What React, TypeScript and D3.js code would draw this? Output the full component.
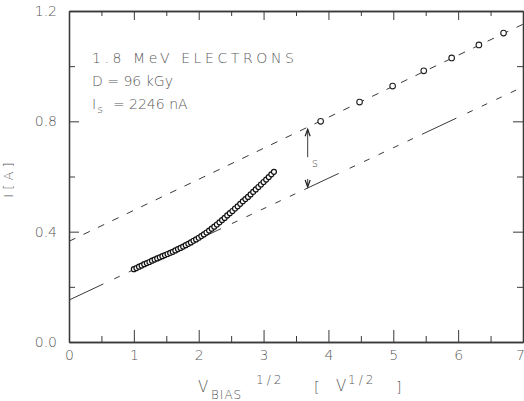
import React, { useEffect, useRef } from "react";
import * as d3 from "d3";

// axis ticks
const xMajor = [0, 1, 2, 3, 4, 5, 6, 7];
const xMinor = [0.5, 1.5, 2.5, 3.5, 4.5, 5.5, 6.5];
const yMajor = [0.0, 0.4, 0.8, 1.2];
const yMinor = [0.2, 0.6, 1.0];

// measured current vs sqrt(V bias), low-voltage range
const measX = [
  1.0, 1.04, 1.08, 1.12, 1.16, 1.2, 1.24, 1.28, 1.32, 1.36, 1.4, 1.44, 1.48,
  1.52, 1.56, 1.6, 1.64, 1.68, 1.72, 1.76, 1.8, 1.84, 1.88, 1.92, 1.96, 2.0,
  2.04, 2.08, 2.12, 2.16, 2.2, 2.24, 2.28, 2.32, 2.36, 2.4, 2.44, 2.48, 2.52,
  2.56, 2.6, 2.64, 2.68, 2.72, 2.76, 2.8, 2.84, 2.88, 2.92, 2.96, 3.0, 3.04,
  3.08, 3.12, 3.16,
];
const measI = [
  0.264, 0.268, 0.273, 0.277, 0.282, 0.286, 0.29, 0.295, 0.299, 0.303, 0.307,
  0.311, 0.315, 0.319, 0.323, 0.327, 0.332, 0.337, 0.341, 0.346, 0.351, 0.356,
  0.361, 0.367, 0.372, 0.378, 0.384, 0.39, 0.397, 0.404, 0.411, 0.418, 0.426,
  0.434, 0.442, 0.45, 0.459, 0.467, 0.475, 0.484, 0.492, 0.501, 0.51, 0.518,
  0.526, 0.535, 0.544, 0.553, 0.562, 0.571, 0.58, 0.589, 0.598, 0.608, 0.617,
];

// high-voltage points
const highX = [3.88, 4.48, 4.99, 5.47, 5.9, 6.32, 6.7];
const highI = [0.8, 0.87, 0.928, 0.983, 1.03, 1.077, 1.12];

// straight-line fits
const fitX = [0, 7];
const upperFit = [0.365, 1.152];
const lowerFit = [0.152, 0.925];

// position of the "s" separation arrow
const sepX = 3.68;

const W = 524;
const H = 401;
const FONT = "'DejaVu Sans', sans-serif";
const INK = "#3a3a3a";
const TXT = "#5a5a5a";

export default function App() {
  const ref = useRef<SVGGElement>(null);

  useEffect(() => {
    const svg = d3.select(ref.current);
    svg.selectAll("*").remove();

    const x = d3.scaleLinear().domain([0, 7]).range([69, 523]);
    const y = d3.scaleLinear().domain([0, 1.2]).range([342, 11]);

    const styleAxis = (g: any) => {
      g.select(".domain").attr("stroke", INK).attr("stroke-width", 1.3);
      g.selectAll(".tick line").attr("stroke", INK).attr("stroke-width", 1);
      g.selectAll(".tick text")
        .attr("fill", TXT)
        .style("font-family", FONT)
        .style("font-size", "14px")
        .style("font-weight", 300);
    };

    // bottom
    svg.append("g").attr("transform", `translate(0,${y(0)})`)
      .call(d3.axisBottom(x).tickValues(xMajor).tickSize(-12).tickSizeOuter(0).tickPadding(8).tickFormat(d3.format("d")))
      .call(styleAxis)
      .call((g: any) => g.selectAll(".tick text").filter((d: number) => d === 7).attr("dx", -3));
    svg.append("g").attr("transform", `translate(0,${y(0)})`)
      .call(d3.axisBottom(x).tickValues(xMinor).tickSize(-6).tickSizeOuter(0).tickFormat(() => ""))
      .call(styleAxis);
    // top
    svg.append("g").attr("transform", `translate(0,${y(1.2)})`)
      .call(d3.axisTop(x).tickValues(xMajor).tickSize(-9).tickSizeOuter(0).tickFormat(() => ""))
      .call(styleAxis);
    svg.append("g").attr("transform", `translate(0,${y(1.2)})`)
      .call(d3.axisTop(x).tickValues(xMinor).tickSize(-5).tickSizeOuter(0).tickFormat(() => ""))
      .call(styleAxis);
    // left
    svg.append("g").attr("transform", `translate(${x(0)},0)`)
      .call(d3.axisLeft(y).tickValues(yMajor).tickSize(-10).tickSizeOuter(0).tickPadding(12).tickFormat(d3.format(".1f")))
      .call(styleAxis);
    svg.append("g").attr("transform", `translate(${x(0)},0)`)
      .call(d3.axisLeft(y).tickValues(yMinor).tickSize(-6).tickSizeOuter(0).tickFormat(() => ""))
      .call(styleAxis);
    // right
    svg.append("g").attr("transform", `translate(${x(7)},0)`)
      .call(d3.axisRight(y).tickValues(yMajor).tickSize(-10).tickSizeOuter(0).tickFormat(() => ""))
      .call(styleAxis);
    svg.append("g").attr("transform", `translate(${x(7)},0)`)
      .call(d3.axisRight(y).tickValues(yMinor).tickSize(-6).tickSizeOuter(0).tickFormat(() => ""))
      .call(styleAxis);

    const line = d3.line<[number, number]>().x((d) => x(d[0])).y((d) => y(d[1]));

    // fit lines
    svg.append("path")
      .attr("d", line(fitX.map((v, i) => [v, upperFit[i]]) as [number, number][]))
      .attr("fill", "none").attr("stroke", INK).attr("stroke-width", 1)
      .attr("stroke-dasharray", "7 9");
    svg.append("path")
      .attr("d", line(fitX.map((v, i) => [v, lowerFit[i]]) as [number, number][]))
      .attr("fill", "none").attr("stroke", INK).attr("stroke-width", 1)
      .attr("stroke-dasharray", "38 12 6 10 6 10 6 10 6 10 6 10");

    // measured points
    svg.append("g").selectAll("circle")
      .data(measX.map((v, i) => [v, measI[i]]))
      .join("circle")
      .attr("cx", (d) => x(d[0])).attr("cy", (d) => y(d[1]))
      .attr("r", 2.5).attr("fill", "white")
      .attr("stroke", "#111").attr("stroke-width", 1.2);

    svg.append("g").selectAll("circle")
      .data(highX.map((v, i) => [v, highI[i]]))
      .join("circle")
      .attr("cx", (d) => x(d[0])).attr("cy", (d) => y(d[1]))
      .attr("r", 2.8).attr("fill", "white")
      .attr("stroke", "#222").attr("stroke-width", 1.1);

    // separation arrow
    const upAt = upperFit[0] + ((upperFit[1] - upperFit[0]) * sepX) / 7;
    const loAt = lowerFit[0] + ((lowerFit[1] - lowerFit[0]) * sepX) / 7;
    const ax = x(sepX);
    const yTop = y(upAt) + 2;
    const yBot = y(loAt) - 1;
    svg.append("line").attr("x1", ax).attr("x2", ax).attr("y1", yTop).attr("y2", yTop + 28)
      .attr("stroke", INK).attr("stroke-width", 1);
    svg.append("line").attr("x1", ax).attr("x2", ax).attr("y1", yBot - 8).attr("y2", yBot)
      .attr("stroke", INK).attr("stroke-width", 1);
    svg.append("path")
      .attr("d", `M${ax - 2.5},${yTop + 7}L${ax},${yTop}L${ax + 2.5},${yTop + 7}`)
      .attr("fill", "none").attr("stroke", "#222").attr("stroke-width", 1.2);
    svg.append("path")
      .attr("d", `M${ax - 2.5},${yBot - 7}L${ax},${yBot}L${ax + 2.5},${yBot - 7}`)
      .attr("fill", "none").attr("stroke", "#222").attr("stroke-width", 1.2);
    svg.append("text").attr("x", ax + 4).attr("y", (yTop + yBot) / 2 + 9)
      .attr("fill", TXT).style("font-family", FONT).style("font-size", "12px").style("font-weight", 300)
      .text("s");
  }, []);

  const t = { fontFamily: FONT, fill: TXT, fontWeight: 300 } as const;

  return (
    <svg
      width={W}
      height={H}
      style={{ position: "absolute", left: 0, top: 0, background: "white" }}
    >
      <g ref={ref} />
      <g>
        <text x={92} y={63} fontSize={14} letterSpacing={3.6} style={t}>
          1.8 MeV ELECTRONS
        </text>
        <text x={92} y={86} fontSize={14} style={t}>
          D = 96 kGy
        </text>
        <text x={92} y={109} fontSize={14} style={t}>
          I
          <tspan dx={1} dy={4} fontSize={11}>s</tspan>
          <tspan dx={10} dy={-4}>=  2246 nA</tspan>
        </text>
        <text x={13} y={180} fontSize={13} textAnchor="middle" transform="rotate(-90 13 180)" style={t}>
          I  [ A ]
        </text>
        <text x={198} y={392} fontSize={15} style={t}>V</text>
        <text x={211} y={399} fontSize={12} letterSpacing={1} style={t}>BIAS</text>
        <text x={256} y={384} fontSize={12} letterSpacing={3} style={t}>1/2</text>
        <text x={314} y={392} fontSize={14} style={t}>[</text>
        <text x={336} y={391} fontSize={15} style={t}>V</text>
        <text x={348} y={384} fontSize={12} letterSpacing={3} style={t}>1/2</text>
        <text x={396} y={392} fontSize={14} style={t}>]</text>
      </g>
    </svg>
  );
}
